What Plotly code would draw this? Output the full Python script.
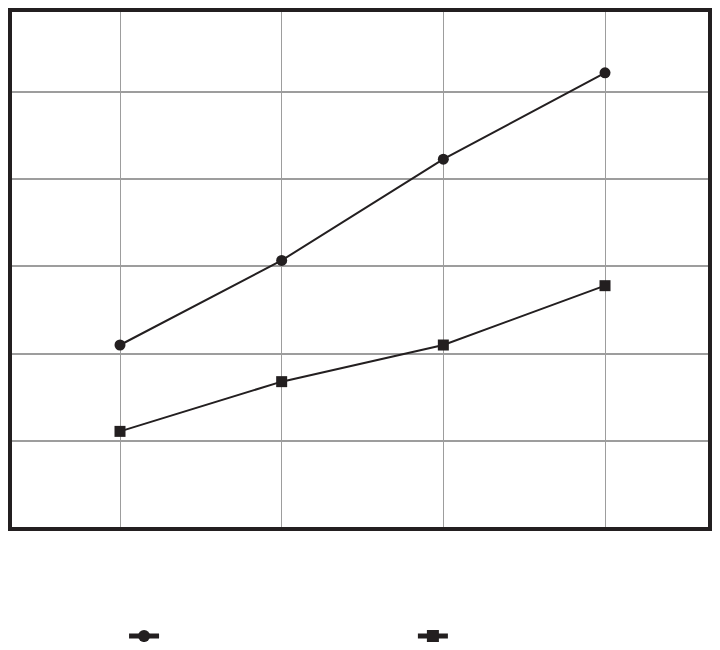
import plotly.graph_objects as go

# data
x_vals = [1, 2, 3, 4]
circle_vals = [2.10, 3.07, 4.23, 5.22]
square_vals = [1.11, 1.68, 2.10, 2.78]
y_ticks = [1, 2, 3, 4, 5]

INK = "#231f20"
GRID = "#9d9d9d"

fig = go.Figure()
fig.add_trace(go.Scatter(
    x=x_vals, y=circle_vals, mode="lines+markers", name=" ",
    line=dict(color=INK, width=2),
    marker=dict(symbol="circle", size=11, color=INK),
    legend="legend",
))
fig.add_trace(go.Scatter(
    x=x_vals, y=square_vals, mode="lines+markers", name=" ",
    line=dict(color=INK, width=2),
    marker=dict(symbol="square", size=11, color=INK),
    legend="legend2",
))

fig.update_xaxes(
    range=[0.332, 4.637], tickvals=x_vals, showticklabels=False,
    showgrid=True, gridcolor=GRID, gridwidth=1, zeroline=False,
    showline=True, linecolor=INK, linewidth=4, mirror=True,
)
fig.update_yaxes(
    range=[0.014, 5.917], tickvals=y_ticks, showticklabels=False,
    showgrid=True, gridcolor=GRID, gridwidth=1.5, zeroline=False,
    showline=True, linecolor=INK, linewidth=4, mirror=True,
)

leg = dict(
    orientation="h", xanchor="left", yanchor="middle", y=-0.2117,
    itemsizing="constant", font=dict(size=12, color=INK),
    bgcolor="rgba(0,0,0,0)",
)
fig.update_layout(
    width=704, height=634,
    margin=dict(l=4, r=4, t=4, b=115, autoexpand=False),
    plot_bgcolor="white", paper_bgcolor="white",
    showlegend=True,
    legend=dict(leg, x=0.161),
    legend2=dict(leg, x=0.576),
)

fig.write_html("out.html")
